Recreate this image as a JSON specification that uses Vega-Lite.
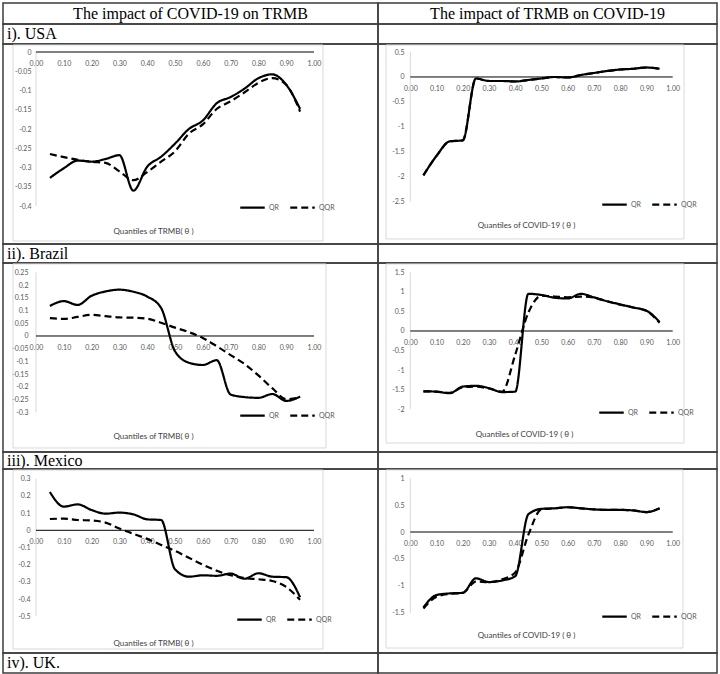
{
"$schema":"https://vega.github.io/schema/vega-lite/v6.json",
"padding":{"left":2,"top":2,"right":2,"bottom":2},
"background":"white",
"columns":2,"spacing":0,"bounds":"flush","align":"each",
"resolve":{"scale":{"x":"independent","y":"independent","strokeDash":"independent"},"legend":{"strokeDash":"independent"}},
"config":{
"view":{"stroke":"#3c3c3c","strokeWidth":1.5},
"axis":{"labelFont":"Lato","labelFontSize":7,"labelColor":"#595959","grid":false,"domain":false,"ticks":false,"titleFont":"Lato","titleFontSize":8,"titleColor":"#404040","titleFontWeight":"normal","labelOverlap":false,"labelBound":false,"labelFlush":false,"tickCount":60},
"legend":{"symbolType":"stroke","symbolSize":600,"symbolStrokeWidth":2.2,"symbolStrokeColor":"black","labelFont":"Lato","labelFontSize":7,"labelColor":"#595959","labelOffset":3,"columnPadding":6}
},
"datasets":{
"UL":[
{"q":0.05,"model":"QR","coef":-0.327},{"q":0.10,"model":"QR","coef":-0.302},{"q":0.15,"model":"QR","coef":-0.282},{"q":0.20,"model":"QR","coef":-0.285},{"q":0.25,"model":"QR","coef":-0.278},{"q":0.30,"model":"QR","coef":-0.268},{"q":0.35,"model":"QR","coef":-0.36},{"q":0.40,"model":"QR","coef":-0.298},{"q":0.45,"model":"QR","coef":-0.272},{"q":0.50,"model":"QR","coef":-0.238},{"q":0.55,"model":"QR","coef":-0.2},{"q":0.60,"model":"QR","coef":-0.178},{"q":0.65,"model":"QR","coef":-0.133},{"q":0.70,"model":"QR","coef":-0.117},{"q":0.75,"model":"QR","coef":-0.095},{"q":0.80,"model":"QR","coef":-0.068},{"q":0.85,"model":"QR","coef":-0.058},{"q":0.90,"model":"QR","coef":-0.085},{"q":0.95,"model":"QR","coef":-0.148},
{"q":0.05,"model":"QQR","coef":-0.265},{"q":0.10,"model":"QQR","coef":-0.273},{"q":0.15,"model":"QQR","coef":-0.28},{"q":0.20,"model":"QQR","coef":-0.285},{"q":0.25,"model":"QQR","coef":-0.288},{"q":0.30,"model":"QQR","coef":-0.31},{"q":0.35,"model":"QQR","coef":-0.333},{"q":0.40,"model":"QQR","coef":-0.312},{"q":0.45,"model":"QQR","coef":-0.285},{"q":0.50,"model":"QQR","coef":-0.258},{"q":0.55,"model":"QQR","coef":-0.212},{"q":0.60,"model":"QQR","coef":-0.188},{"q":0.65,"model":"QQR","coef":-0.148},{"q":0.70,"model":"QQR","coef":-0.128},{"q":0.75,"model":"QQR","coef":-0.105},{"q":0.80,"model":"QQR","coef":-0.08},{"q":0.85,"model":"QQR","coef":-0.068},{"q":0.90,"model":"QQR","coef":-0.085},{"q":0.95,"model":"QQR","coef":-0.155}],
"UR":[
{"q":0.05,"model":"QR","coef":-1.97},{"q":0.10,"model":"QR","coef":-1.58},{"q":0.15,"model":"QR","coef":-1.29},{"q":0.20,"model":"QR","coef":-1.27},{"q":0.25,"model":"QR","coef":-0.03},{"q":0.30,"model":"QR","coef":-0.08},{"q":0.35,"model":"QR","coef":-0.08},{"q":0.40,"model":"QR","coef":-0.09},{"q":0.45,"model":"QR","coef":-0.06},{"q":0.50,"model":"QR","coef":-0.03},{"q":0.55,"model":"QR","coef":0.0},{"q":0.60,"model":"QR","coef":-0.01},{"q":0.65,"model":"QR","coef":0.04},{"q":0.70,"model":"QR","coef":0.08},{"q":0.75,"model":"QR","coef":0.12},{"q":0.80,"model":"QR","coef":0.15},{"q":0.85,"model":"QR","coef":0.165},{"q":0.90,"model":"QR","coef":0.19},{"q":0.95,"model":"QR","coef":0.165},
{"q":0.05,"model":"QQR","coef":-1.97},{"q":0.10,"model":"QQR","coef":-1.58},{"q":0.15,"model":"QQR","coef":-1.29},{"q":0.20,"model":"QQR","coef":-1.27},{"q":0.25,"model":"QQR","coef":-0.03},{"q":0.30,"model":"QQR","coef":-0.08},{"q":0.35,"model":"QQR","coef":-0.08},{"q":0.40,"model":"QQR","coef":-0.09},{"q":0.45,"model":"QQR","coef":-0.06},{"q":0.50,"model":"QQR","coef":-0.03},{"q":0.55,"model":"QQR","coef":0.0},{"q":0.60,"model":"QQR","coef":-0.01},{"q":0.65,"model":"QQR","coef":0.04},{"q":0.70,"model":"QQR","coef":0.08},{"q":0.75,"model":"QQR","coef":0.12},{"q":0.80,"model":"QQR","coef":0.15},{"q":0.85,"model":"QQR","coef":0.165},{"q":0.90,"model":"QQR","coef":0.19},{"q":0.95,"model":"QQR","coef":0.165}],
"BL":[
{"q":0.05,"model":"QR","coef":0.118},{"q":0.10,"model":"QR","coef":0.137},{"q":0.15,"model":"QR","coef":0.122},{"q":0.20,"model":"QR","coef":0.158},{"q":0.25,"model":"QR","coef":0.175},{"q":0.30,"model":"QR","coef":0.182},{"q":0.35,"model":"QR","coef":0.174},{"q":0.40,"model":"QR","coef":0.155},{"q":0.45,"model":"QR","coef":0.11},{"q":0.50,"model":"QR","coef":-0.06},{"q":0.55,"model":"QR","coef":-0.105},{"q":0.60,"model":"QR","coef":-0.114},{"q":0.65,"model":"QR","coef":-0.095},{"q":0.70,"model":"QR","coef":-0.23},{"q":0.75,"model":"QR","coef":-0.24},{"q":0.80,"model":"QR","coef":-0.243},{"q":0.85,"model":"QR","coef":-0.228},{"q":0.90,"model":"QR","coef":-0.255},{"q":0.95,"model":"QR","coef":-0.238},
{"q":0.05,"model":"QQR","coef":0.07},{"q":0.10,"model":"QQR","coef":0.067},{"q":0.15,"model":"QQR","coef":0.075},{"q":0.20,"model":"QQR","coef":0.083},{"q":0.25,"model":"QQR","coef":0.078},{"q":0.30,"model":"QQR","coef":0.073},{"q":0.35,"model":"QQR","coef":0.072},{"q":0.40,"model":"QQR","coef":0.068},{"q":0.45,"model":"QQR","coef":0.052},{"q":0.50,"model":"QQR","coef":0.033},{"q":0.55,"model":"QQR","coef":0.015},{"q":0.60,"model":"QQR","coef":-0.008},{"q":0.65,"model":"QQR","coef":-0.04},{"q":0.70,"model":"QQR","coef":-0.075},{"q":0.75,"model":"QQR","coef":-0.11},{"q":0.80,"model":"QQR","coef":-0.155},{"q":0.85,"model":"QQR","coef":-0.205},{"q":0.90,"model":"QQR","coef":-0.248},{"q":0.95,"model":"QQR","coef":-0.242}],
"BR":[
{"q":0.05,"model":"QR","coef":-1.54},{"q":0.10,"model":"QR","coef":-1.55},{"q":0.15,"model":"QR","coef":-1.59},{"q":0.20,"model":"QR","coef":-1.42},{"q":0.25,"model":"QR","coef":-1.40},{"q":0.30,"model":"QR","coef":-1.46},{"q":0.35,"model":"QR","coef":-1.56},{"q":0.40,"model":"QR","coef":-1.55},{"q":0.45,"model":"QR","coef":0.95},{"q":0.50,"model":"QR","coef":0.92},{"q":0.55,"model":"QR","coef":0.85},{"q":0.60,"model":"QR","coef":0.83},{"q":0.65,"model":"QR","coef":0.95},{"q":0.70,"model":"QR","coef":0.86},{"q":0.75,"model":"QR","coef":0.76},{"q":0.80,"model":"QR","coef":0.68},{"q":0.85,"model":"QR","coef":0.6},{"q":0.90,"model":"QR","coef":0.52},{"q":0.95,"model":"QR","coef":0.23},
{"q":0.05,"model":"QQR","coef":-1.54},{"q":0.10,"model":"QQR","coef":-1.55},{"q":0.15,"model":"QQR","coef":-1.58},{"q":0.20,"model":"QQR","coef":-1.44},{"q":0.25,"model":"QQR","coef":-1.42},{"q":0.30,"model":"QQR","coef":-1.47},{"q":0.35,"model":"QQR","coef":-1.55},{"q":0.40,"model":"QQR","coef":-0.6},{"q":0.45,"model":"QQR","coef":0.47},{"q":0.50,"model":"QQR","coef":0.9},{"q":0.55,"model":"QQR","coef":0.88},{"q":0.60,"model":"QQR","coef":0.86},{"q":0.65,"model":"QQR","coef":0.88},{"q":0.70,"model":"QQR","coef":0.85},{"q":0.75,"model":"QQR","coef":0.76},{"q":0.80,"model":"QQR","coef":0.67},{"q":0.85,"model":"QQR","coef":0.6},{"q":0.90,"model":"QQR","coef":0.51},{"q":0.95,"model":"QQR","coef":0.21}],
"ML":[
{"q":0.05,"model":"QR","coef":0.223},{"q":0.10,"model":"QR","coef":0.138},{"q":0.15,"model":"QR","coef":0.151},{"q":0.20,"model":"QR","coef":0.118},{"q":0.25,"model":"QR","coef":0.097},{"q":0.30,"model":"QR","coef":0.103},{"q":0.35,"model":"QR","coef":0.093},{"q":0.40,"model":"QR","coef":0.064},{"q":0.45,"model":"QR","coef":0.06},{"q":0.50,"model":"QR","coef":-0.227},{"q":0.55,"model":"QR","coef":-0.27},{"q":0.60,"model":"QR","coef":-0.262},{"q":0.65,"model":"QR","coef":-0.265},{"q":0.70,"model":"QR","coef":-0.252},{"q":0.75,"model":"QR","coef":-0.282},{"q":0.80,"model":"QR","coef":-0.25},{"q":0.85,"model":"QR","coef":-0.27},{"q":0.90,"model":"QR","coef":-0.273},{"q":0.95,"model":"QR","coef":-0.39},
{"q":0.05,"model":"QQR","coef":0.066},{"q":0.10,"model":"QQR","coef":0.068},{"q":0.15,"model":"QQR","coef":0.06},{"q":0.20,"model":"QQR","coef":0.057},{"q":0.25,"model":"QQR","coef":0.045},{"q":0.30,"model":"QQR","coef":0.01},{"q":0.35,"model":"QQR","coef":-0.02},{"q":0.40,"model":"QQR","coef":-0.05},{"q":0.45,"model":"QQR","coef":-0.085},{"q":0.50,"model":"QQR","coef":-0.12},{"q":0.55,"model":"QQR","coef":-0.16},{"q":0.60,"model":"QQR","coef":-0.2},{"q":0.65,"model":"QQR","coef":-0.235},{"q":0.70,"model":"QQR","coef":-0.262},{"q":0.75,"model":"QQR","coef":-0.278},{"q":0.80,"model":"QQR","coef":-0.285},{"q":0.85,"model":"QQR","coef":-0.295},{"q":0.90,"model":"QQR","coef":-0.33},{"q":0.95,"model":"QQR","coef":-0.405}],
"MR":[
{"q":0.05,"model":"QR","coef":-1.40},{"q":0.10,"model":"QR","coef":-1.17},{"q":0.15,"model":"QR","coef":-1.14},{"q":0.20,"model":"QR","coef":-1.13},{"q":0.25,"model":"QR","coef":-0.86},{"q":0.30,"model":"QR","coef":-0.93},{"q":0.35,"model":"QR","coef":-0.9},{"q":0.40,"model":"QR","coef":-0.82},{"q":0.45,"model":"QR","coef":0.33},{"q":0.50,"model":"QR","coef":0.43},{"q":0.55,"model":"QR","coef":0.44},{"q":0.60,"model":"QR","coef":0.46},{"q":0.65,"model":"QR","coef":0.44},{"q":0.70,"model":"QR","coef":0.42},{"q":0.75,"model":"QR","coef":0.41},{"q":0.80,"model":"QR","coef":0.41},{"q":0.85,"model":"QR","coef":0.40},{"q":0.90,"model":"QR","coef":0.37},{"q":0.95,"model":"QR","coef":0.44},
{"q":0.05,"model":"QQR","coef":-1.42},{"q":0.10,"model":"QQR","coef":-1.2},{"q":0.15,"model":"QQR","coef":-1.15},{"q":0.20,"model":"QQR","coef":-1.13},{"q":0.25,"model":"QQR","coef":-0.92},{"q":0.30,"model":"QQR","coef":-0.93},{"q":0.35,"model":"QQR","coef":-0.88},{"q":0.40,"model":"QQR","coef":-0.75},{"q":0.45,"model":"QQR","coef":-0.05},{"q":0.50,"model":"QQR","coef":0.42},{"q":0.55,"model":"QQR","coef":0.44},{"q":0.60,"model":"QQR","coef":0.46},{"q":0.65,"model":"QQR","coef":0.44},{"q":0.70,"model":"QQR","coef":0.42},{"q":0.75,"model":"QQR","coef":0.41},{"q":0.80,"model":"QQR","coef":0.41},{"q":0.85,"model":"QQR","coef":0.40},{"q":0.90,"model":"QQR","coef":0.37},{"q":0.95,"model":"QQR","coef":0.44}]
},
"concat":[
{"width":375,"height":21,"data":{"values":[{"label":"The impact of COVID-19 on TRMB"}]},"mark":{"type":"text","font":"Liberation Serif","fontSize":16,"color":"black"},"encoding":{"text":{"field":"label"},"x":{"datum":0.5,"type":"quantitative","scale":{"domain":[0,1]},"axis":null},"y":{"datum":0.5,"type":"quantitative","scale":{"domain":[0,1]},"axis":null}}},
{"width":339,"height":21,"data":{"values":[{"label":"The impact of TRMB on COVID-19"}]},"mark":{"type":"text","font":"Liberation Serif","fontSize":16,"color":"black"},"encoding":{"text":{"field":"label"},"x":{"datum":0.5,"type":"quantitative","scale":{"domain":[0,1]},"axis":null},"y":{"datum":0.5,"type":"quantitative","scale":{"domain":[0,1]},"axis":null}}},
{"width":375,"height":20,"data":{"values":[{"label":"i). USA"}]},"mark":{"type":"text","font":"Liberation Serif","fontSize":16,"color":"black","align":"left","dx":4},"encoding":{"text":{"field":"label"},"x":{"datum":0,"type":"quantitative","scale":{"domain":[0,1]},"axis":null},"y":{"datum":0.5,"type":"quantitative","scale":{"domain":[0,1]},"axis":null}}},
{"width":339,"height":20,"data":{"values":[{"label":""}]},"mark":{"type":"text"},"encoding":{"text":{"field":"label"},"x":{"datum":0.5,"type":"quantitative","scale":{"domain":[0,1]},"axis":null},"y":{"datum":0.5,"type":"quantitative","scale":{"domain":[0,1]},"axis":null}}},
{"width":375,"height":200,"data":{"name":"UL"},"layer":[
{"mark":{"type":"line","interpolate":"monotone","color":"black","strokeWidth":2.2},
"encoding":{
"x":{"field":"q","type":"quantitative","scale":{"domain":[-0.1187,1.2302],"nice":false,"zero":false},"axis":{"values":[0,0.1,0.2,0.3,0.4,0.5,0.6,0.7,0.8,0.9,1],"tickCount":60,"format":".2f","offset":-192,"labelPadding":7,"labelOverlap":false,"title":"Quantiles of TRMB( θ )","titleX":150,"titleY":179,"titleBaseline":"middle"}},
"y":{"field":"coef","type":"quantitative","scale":{"domain":[-0.4987,0.0208],"nice":false,"zero":false},"axis":{"values":[0,-0.05,-0.1,-0.15,-0.2,-0.25,-0.3,-0.35,-0.4],"tickCount":60,"labelExpr":"toString(datum.value)","offset":-33,"labelPadding":5,"labelOverlap":false,"title":null}},
"strokeDash":{"field":"model","type":"nominal","scale":{"domain":["QR","QQR"],"range":[[1,0],[7,4]]},"legend":{"orient":"none","legendX":236,"legendY":150,"direction":"horizontal","title":null}}}},
{"data":{"values":[{}]},"mark":{"type":"rule","color":"#d9d9d9","strokeWidth":1},"encoding":{"x":{"datum":0,"type":"quantitative"},"y":{"datum":0,"type":"quantitative"},"y2":{"datum":-0.4}}},
{"data":{"values":[{}]},"mark":{"type":"rule","color":"black","strokeWidth":1},"encoding":{"x":{"datum":0,"type":"quantitative"},"x2":{"datum":1},"y":{"datum":0,"type":"quantitative"}}},
{"data":{"values":[{}]},"mark":{"type":"rect","filled":false,"stroke":"#d9d9d9","strokeWidth":1},"encoding":{"x":{"datum":-0.0827,"type":"quantitative"},"x2":{"datum":1.0324},"y":{"datum":0.0182,"type":"quantitative"},"y2":{"datum":-0.4909}}}
]},
{"width":339,"height":200,"data":{"name":"UR"},"layer":[
{"mark":{"type":"line","interpolate":"monotone","color":"black","strokeWidth":2.2},
"encoding":{
"x":{"field":"q","type":"quantitative","scale":{"domain":[-0.1231,1.1688],"nice":false,"zero":false},"axis":{"values":[0,0.1,0.2,0.3,0.4,0.5,0.6,0.7,0.8,0.9,1],"tickCount":60,"format":".2f","offset":-167,"labelPadding":7,"labelOverlap":false,"title":"Quantiles of COVID-19 ( θ )","titleX":148,"titleY":148,"titleBaseline":"middle"}},
"y":{"field":"coef","type":"quantitative","scale":{"domain":[-3.347,0.661],"nice":false,"zero":false},"axis":{"values":[0.5,0,-0.5,-1,-1.5,-2,-2.5],"tickCount":60,"labelExpr":"toString(datum.value)","offset":-32,"labelPadding":6,"labelOverlap":false,"title":null}},
"strokeDash":{"field":"model","type":"nominal","scale":{"domain":["QR","QQR"],"range":[[1,0],[7,4]]},"legend":{"orient":"none","legendX":223,"legendY":147,"direction":"horizontal","title":null}}}},
{"data":{"values":[{}]},"mark":{"type":"rule","color":"#d9d9d9","strokeWidth":1},"encoding":{"x":{"datum":0,"type":"quantitative"},"y":{"datum":0.5,"type":"quantitative"},"y2":{"datum":-2.5}}},
{"data":{"values":[{}]},"mark":{"type":"rule","color":"black","strokeWidth":1},"encoding":{"x":{"datum":0,"type":"quantitative"},"x2":{"datum":1},"y":{"datum":0,"type":"quantitative"}}},
{"data":{"values":[{}]},"mark":{"type":"rect","filled":false,"stroke":"#d9d9d9","strokeWidth":1},"encoding":{"x":{"datum":-0.0926,"type":"quantitative"},"x2":{"datum":1.0431},"y":{"datum":0.641,"type":"quantitative"},"y2":{"datum":-3.246}}}
]},
{"width":375,"height":19,"data":{"values":[{"label":"ii). Brazil"}]},"mark":{"type":"text","font":"Liberation Serif","fontSize":16,"color":"black","align":"left","dx":4},"encoding":{"text":{"field":"label"},"x":{"datum":0,"type":"quantitative","scale":{"domain":[0,1]},"axis":null},"y":{"datum":0.5,"type":"quantitative","scale":{"domain":[0,1]},"axis":null}}},
{"width":339,"height":19,"data":{"values":[{"label":""}]},"mark":{"type":"text"},"encoding":{"text":{"field":"label"},"x":{"datum":0.5,"type":"quantitative","scale":{"domain":[0,1]},"axis":null},"y":{"datum":0.5,"type":"quantitative","scale":{"domain":[0,1]},"axis":null}}},
{"width":375,"height":189,"data":{"name":"BL"},"layer":[
{"mark":{"type":"line","interpolate":"monotone","color":"black","strokeWidth":2.2},
"encoding":{
"x":{"field":"q","type":"quantitative","scale":{"domain":[-0.1187,1.2302],"nice":false,"zero":false},"axis":{"values":[0,0.1,0.2,0.3,0.4,0.5,0.6,0.7,0.8,0.9,1],"tickCount":60,"format":".2f","offset":-116,"labelPadding":7,"labelOverlap":false,"title":"Quantiles of TRMB( θ )","titleX":150,"titleY":100,"titleBaseline":"middle"}},
"y":{"field":"coef","type":"quantitative","scale":{"domain":[-0.4558,0.2868],"nice":false,"zero":false},"axis":{"values":[0.25,0.2,0.15,0.1,0.05,0,-0.05,-0.1,-0.15,-0.2,-0.25,-0.3],"tickCount":60,"labelExpr":"toString(datum.value)","offset":-33,"labelPadding":8,"labelOverlap":false,"title":null}},
"strokeDash":{"field":"model","type":"nominal","scale":{"domain":["QR","QQR"],"range":[[1,0],[7,4]]},"legend":{"orient":"none","legendX":236,"legendY":139,"direction":"horizontal","title":null}}}},
{"data":{"values":[{}]},"mark":{"type":"rule","color":"#d9d9d9","strokeWidth":1},"encoding":{"x":{"datum":0,"type":"quantitative"},"y":{"datum":0.25,"type":"quantitative"},"y2":{"datum":-0.3}}},
{"data":{"values":[{}]},"mark":{"type":"rule","color":"black","strokeWidth":1},"encoding":{"x":{"datum":0,"type":"quantitative"},"x2":{"datum":1},"y":{"datum":0,"type":"quantitative"}}},
{"data":{"values":[{}]},"mark":{"type":"rect","filled":false,"stroke":"#d9d9d9","strokeWidth":1},"encoding":{"x":{"datum":-0.0827,"type":"quantitative"},"x2":{"datum":1.0432},"y":{"datum":0.283,"type":"quantitative"},"y2":{"datum":-0.44}}}
]},
{"width":339,"height":189,"data":{"name":"BR"},"layer":[
{"mark":{"type":"line","interpolate":"monotone","color":"black","strokeWidth":2.2},
"encoding":{
"x":{"field":"q","type":"quantitative","scale":{"domain":[-0.1231,1.1688],"nice":false,"zero":false},"axis":{"values":[0,0.1,0.2,0.3,0.4,0.5,0.6,0.7,0.8,0.9,1],"tickCount":60,"format":".2f","offset":-121,"labelPadding":7,"labelOverlap":false,"title":"Quantiles of COVID-19 ( θ )","titleX":146,"titleY":103,"titleBaseline":"middle"}},
"y":{"field":"coef","type":"quantitative","scale":{"domain":[-3.091,1.737],"nice":false,"zero":false},"axis":{"values":[1.5,1,0.5,0,-0.5,-1,-1.5,-2],"tickCount":60,"labelExpr":"toString(datum.value)","offset":-32,"labelPadding":6,"labelOverlap":false,"title":null}},
"strokeDash":{"field":"model","type":"nominal","scale":{"domain":["QR","QQR"],"range":[[1,0],[7,4]]},"legend":{"orient":"none","legendX":220,"legendY":136,"direction":"horizontal","title":null}}}},
{"data":{"values":[{}]},"mark":{"type":"rule","color":"#d9d9d9","strokeWidth":1},"encoding":{"x":{"datum":0,"type":"quantitative"},"y":{"datum":1.5,"type":"quantitative"},"y2":{"datum":-2}}},
{"data":{"values":[{}]},"mark":{"type":"rule","color":"black","strokeWidth":1},"encoding":{"x":{"datum":0,"type":"quantitative"},"x2":{"datum":1},"y":{"datum":0,"type":"quantitative"}}},
{"data":{"values":[{}]},"mark":{"type":"rect","filled":false,"stroke":"#d9d9d9","strokeWidth":1},"encoding":{"x":{"datum":-0.0926,"type":"quantitative"},"x2":{"datum":1.0431},"y":{"datum":1.712,"type":"quantitative"},"y2":{"datum":-2.862}}}
]},
{"width":375,"height":17,"data":{"values":[{"label":"iii). Mexico"}]},"mark":{"type":"text","font":"Liberation Serif","fontSize":16,"color":"black","align":"left","dx":4},"encoding":{"text":{"field":"label"},"x":{"datum":0,"type":"quantitative","scale":{"domain":[0,1]},"axis":null},"y":{"datum":0.5,"type":"quantitative","scale":{"domain":[0,1]},"axis":null}}},
{"width":339,"height":17,"data":{"values":[{"label":""}]},"mark":{"type":"text"},"encoding":{"text":{"field":"label"},"x":{"datum":0.5,"type":"quantitative","scale":{"domain":[0,1]},"axis":null},"y":{"datum":0.5,"type":"quantitative","scale":{"domain":[0,1]},"axis":null}}},
{"width":375,"height":184,"data":{"name":"ML"},"layer":[
{"mark":{"type":"line","interpolate":"monotone","color":"black","strokeWidth":2.2},
"encoding":{
"x":{"field":"q","type":"quantitative","scale":{"domain":[-0.1187,1.2302],"nice":false,"zero":false},"axis":{"values":[0,0.1,0.2,0.3,0.4,0.5,0.6,0.7,0.8,0.9,1],"tickCount":60,"format":".2f","offset":-123,"labelPadding":7,"labelOverlap":false,"title":"Quantiles of TRMB( θ )","titleX":150,"titleY":113,"titleBaseline":"middle"}},
"y":{"field":"coef","type":"quantitative","scale":{"domain":[-0.7144,0.357],"nice":false,"zero":false},"axis":{"values":[0.3,0.2,0.1,0,-0.1,-0.2,-0.3,-0.4,-0.5],"tickCount":60,"labelExpr":"toString(datum.value)","offset":-33,"labelPadding":6,"labelOverlap":false,"title":null}},
"strokeDash":{"field":"model","type":"nominal","scale":{"domain":["QR","QQR"],"range":[[1,0],[7,4]]},"legend":{"orient":"none","legendX":233,"legendY":137,"direction":"horizontal","title":null}}}},
{"data":{"values":[{}]},"mark":{"type":"rule","color":"#d9d9d9","strokeWidth":1},"encoding":{"x":{"datum":0,"type":"quantitative"},"y":{"datum":0.3,"type":"quantitative"},"y2":{"datum":-0.5}}},
{"data":{"values":[{}]},"mark":{"type":"rule","color":"black","strokeWidth":1},"encoding":{"x":{"datum":0,"type":"quantitative"},"x2":{"datum":1},"y":{"datum":0,"type":"quantitative"}}},
{"data":{"values":[{}]},"mark":{"type":"rect","filled":false,"stroke":"#d9d9d9","strokeWidth":1},"encoding":{"x":{"datum":-0.0827,"type":"quantitative"},"x2":{"datum":1.0324},"y":{"datum":0.351,"type":"quantitative"},"y2":{"datum":-0.691}}}
]},
{"width":339,"height":184,"data":{"name":"MR"},"layer":[
{"mark":{"type":"line","interpolate":"monotone","color":"black","strokeWidth":2.2},
"encoding":{
"x":{"field":"q","type":"quantitative","scale":{"domain":[-0.1231,1.1688],"nice":false,"zero":false},"axis":{"values":[0,0.1,0.2,0.3,0.4,0.5,0.6,0.7,0.8,0.9,1],"tickCount":60,"format":".2f","offset":-121,"labelPadding":7,"labelOverlap":false,"title":"Quantiles of COVID-19 ( θ )","titleX":148,"titleY":103,"titleBaseline":"middle"}},
"y":{"field":"coef","type":"quantitative","scale":{"domain":[-2.247,1.17],"nice":false,"zero":false},"axis":{"values":[1,0.5,0,-0.5,-1,-1.5],"tickCount":60,"labelExpr":"toString(datum.value)","offset":-32,"labelPadding":6,"labelOverlap":false,"title":null}},
"strokeDash":{"field":"model","type":"nominal","scale":{"domain":["QR","QQR"],"range":[[1,0],[7,4]]},"legend":{"orient":"none","legendX":223,"legendY":134,"direction":"horizontal","title":null}}}},
{"data":{"values":[{}]},"mark":{"type":"rule","color":"#d9d9d9","strokeWidth":1},"encoding":{"x":{"datum":0,"type":"quantitative"},"y":{"datum":1,"type":"quantitative"},"y2":{"datum":-1.5}}},
{"data":{"values":[{}]},"mark":{"type":"rule","color":"black","strokeWidth":1},"encoding":{"x":{"datum":0,"type":"quantitative"},"x2":{"datum":1},"y":{"datum":0,"type":"quantitative"}}},
{"data":{"values":[{}]},"mark":{"type":"rect","filled":false,"stroke":"#d9d9d9","strokeWidth":1},"encoding":{"x":{"datum":-0.0926,"type":"quantitative"},"x2":{"datum":1.039},"y":{"datum":1.152,"type":"quantitative"},"y2":{"datum":-2.155}}}
]},
{"width":375,"height":20,"data":{"values":[{"label":"iv). UK."}]},"mark":{"type":"text","font":"Liberation Serif","fontSize":16,"color":"black","align":"left","dx":4},"encoding":{"text":{"field":"label"},"x":{"datum":0,"type":"quantitative","scale":{"domain":[0,1]},"axis":null},"y":{"datum":0.5,"type":"quantitative","scale":{"domain":[0,1]},"axis":null}}},
{"width":339,"height":20,"data":{"values":[{"label":""}]},"mark":{"type":"text"},"encoding":{"text":{"field":"label"},"x":{"datum":0.5,"type":"quantitative","scale":{"domain":[0,1]},"axis":null},"y":{"datum":0.5,"type":"quantitative","scale":{"domain":[0,1]},"axis":null}}}
]
}
